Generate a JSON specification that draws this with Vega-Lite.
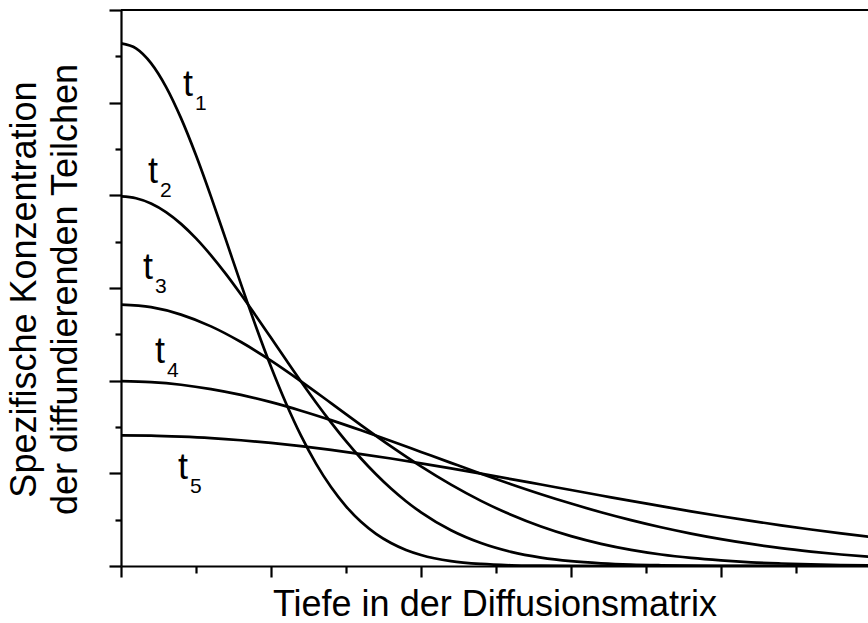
{
  "$schema": "https://vega.github.io/schema/vega-lite/v6.json",
  "width": 747,
  "height": 556,
  "autosize": {"type": "none"},
  "padding": {"left": 121, "top": 10, "right": 0, "bottom": 57},
  "background": "white",
  "config": {
    "view": {"stroke": null},
    "font": "Liberation Sans",
    "axis": {
      "domainColor": "black",
      "domainWidth": 2.2,
      "tickColor": "black",
      "tickWidth": 2.2,
      "labels": false,
      "grid": false,
      "titleFont": "Liberation Sans",
      "titleFontWeight": "normal",
      "titleFontSize": 36,
      "titleColor": "black"
    }
  },
  "datasets": {
    "curves": [
      {"curve": "t1", "x": 0, "y": 5.64}, {"curve": "t1", "x": 0.1, "y": 5.586}, {"curve": "t1", "x": 0.2, "y": 5.427}, {"curve": "t1", "x": 0.3, "y": 5.171}, {"curve": "t1", "x": 0.4, "y": 4.833}, {"curve": "t1", "x": 0.5, "y": 4.432}, {"curve": "t1", "x": 0.6, "y": 3.986}, {"curve": "t1", "x": 0.7, "y": 3.516}, {"curve": "t1", "x": 0.8, "y": 3.042}, {"curve": "t1", "x": 0.9, "y": 2.582}, {"curve": "t1", "x": 1.0, "y": 2.15}, {"curve": "t1", "x": 1.1, "y": 1.756}, {"curve": "t1", "x": 1.2, "y": 1.406}, {"curve": "t1", "x": 1.3, "y": 1.105}, {"curve": "t1", "x": 1.4, "y": 0.852}, {"curve": "t1", "x": 1.5, "y": 0.644}, {"curve": "t1", "x": 1.6, "y": 0.477}, {"curve": "t1", "x": 1.7, "y": 0.347}, {"curve": "t1", "x": 1.8, "y": 0.248}, {"curve": "t1", "x": 1.9, "y": 0.173}, {"curve": "t1", "x": 2.0, "y": 0.119}, {"curve": "t1", "x": 2.2, "y": 0.053}, {"curve": "t1", "x": 2.4, "y": 0.022}, {"curve": "t1", "x": 2.6, "y": 0.008}, {"curve": "t1", "x": 2.8, "y": 0.003}, {"curve": "t1", "x": 3.0, "y": 0.001}, {"curve": "t1", "x": 3.5, "y": 0}, {"curve": "t1", "x": 4.0, "y": 0}, {"curve": "t1", "x": 5.0, "y": 0},
      {"curve": "t2", "x": 0, "y": 3.988}, {"curve": "t2", "x": 0.1, "y": 3.969}, {"curve": "t2", "x": 0.2, "y": 3.912}, {"curve": "t2", "x": 0.3, "y": 3.819}, {"curve": "t2", "x": 0.4, "y": 3.692}, {"curve": "t2", "x": 0.5, "y": 3.535}, {"curve": "t2", "x": 0.6, "y": 3.352}, {"curve": "t2", "x": 0.7, "y": 3.149}, {"curve": "t2", "x": 0.8, "y": 2.929}, {"curve": "t2", "x": 0.9, "y": 2.698}, {"curve": "t2", "x": 1.0, "y": 2.462}, {"curve": "t2", "x": 1.1, "y": 2.225}, {"curve": "t2", "x": 1.2, "y": 1.991}, {"curve": "t2", "x": 1.3, "y": 1.765}, {"curve": "t2", "x": 1.4, "y": 1.55}, {"curve": "t2", "x": 1.5, "y": 1.347}, {"curve": "t2", "x": 1.6, "y": 1.16}, {"curve": "t2", "x": 1.7, "y": 0.99}, {"curve": "t2", "x": 1.8, "y": 0.836}, {"curve": "t2", "x": 1.9, "y": 0.699}, {"curve": "t2", "x": 2.0, "y": 0.579}, {"curve": "t2", "x": 2.2, "y": 0.386}, {"curve": "t2", "x": 2.4, "y": 0.248}, {"curve": "t2", "x": 2.6, "y": 0.153}, {"curve": "t2", "x": 2.8, "y": 0.091}, {"curve": "t2", "x": 3.0, "y": 0.052}, {"curve": "t2", "x": 3.2, "y": 0.029}, {"curve": "t2", "x": 3.4, "y": 0.015}, {"curve": "t2", "x": 3.6, "y": 0.008}, {"curve": "t2", "x": 3.8, "y": 0.004}, {"curve": "t2", "x": 4.0, "y": 0.002}, {"curve": "t2", "x": 4.5, "y": 0}, {"curve": "t2", "x": 5.0, "y": 0},
      {"curve": "t3", "x": 0, "y": 2.82}, {"curve": "t3", "x": 0.2, "y": 2.793}, {"curve": "t3", "x": 0.4, "y": 2.713}, {"curve": "t3", "x": 0.6, "y": 2.586}, {"curve": "t3", "x": 0.8, "y": 2.417}, {"curve": "t3", "x": 1.0, "y": 2.216}, {"curve": "t3", "x": 1.2, "y": 1.993}, {"curve": "t3", "x": 1.4, "y": 1.758}, {"curve": "t3", "x": 1.6, "y": 1.521}, {"curve": "t3", "x": 1.8, "y": 1.291}, {"curve": "t3", "x": 2.0, "y": 1.075}, {"curve": "t3", "x": 2.2, "y": 0.878}, {"curve": "t3", "x": 2.4, "y": 0.703}, {"curve": "t3", "x": 2.6, "y": 0.553}, {"curve": "t3", "x": 2.8, "y": 0.426}, {"curve": "t3", "x": 3.0, "y": 0.322}, {"curve": "t3", "x": 3.2, "y": 0.239}, {"curve": "t3", "x": 3.4, "y": 0.174}, {"curve": "t3", "x": 3.6, "y": 0.124}, {"curve": "t3", "x": 3.8, "y": 0.087}, {"curve": "t3", "x": 4.0, "y": 0.06}, {"curve": "t3", "x": 4.2, "y": 0.04}, {"curve": "t3", "x": 4.4, "y": 0.027}, {"curve": "t3", "x": 4.6, "y": 0.017}, {"curve": "t3", "x": 4.8, "y": 0.011}, {"curve": "t3", "x": 5.0, "y": 0.007},
      {"curve": "t4", "x": 0, "y": 1.994}, {"curve": "t4", "x": 0.2, "y": 1.984}, {"curve": "t4", "x": 0.4, "y": 1.956}, {"curve": "t4", "x": 0.6, "y": 1.909}, {"curve": "t4", "x": 0.8, "y": 1.846}, {"curve": "t4", "x": 1.0, "y": 1.768}, {"curve": "t4", "x": 1.2, "y": 1.676}, {"curve": "t4", "x": 1.4, "y": 1.574}, {"curve": "t4", "x": 1.6, "y": 1.464}, {"curve": "t4", "x": 1.8, "y": 1.349}, {"curve": "t4", "x": 2.0, "y": 1.231}, {"curve": "t4", "x": 2.2, "y": 1.113}, {"curve": "t4", "x": 2.4, "y": 0.996}, {"curve": "t4", "x": 2.6, "y": 0.883}, {"curve": "t4", "x": 2.8, "y": 0.775}, {"curve": "t4", "x": 3.0, "y": 0.674}, {"curve": "t4", "x": 3.2, "y": 0.58}, {"curve": "t4", "x": 3.4, "y": 0.495}, {"curve": "t4", "x": 3.6, "y": 0.418}, {"curve": "t4", "x": 3.8, "y": 0.35}, {"curve": "t4", "x": 4.0, "y": 0.29}, {"curve": "t4", "x": 4.2, "y": 0.238}, {"curve": "t4", "x": 4.4, "y": 0.193}, {"curve": "t4", "x": 4.6, "y": 0.156}, {"curve": "t4", "x": 4.8, "y": 0.124}, {"curve": "t4", "x": 5.0, "y": 0.098},
      {"curve": "t5", "x": 0, "y": 1.41}, {"curve": "t5", "x": 0.2, "y": 1.407}, {"curve": "t5", "x": 0.4, "y": 1.396}, {"curve": "t5", "x": 0.6, "y": 1.38}, {"curve": "t5", "x": 0.8, "y": 1.357}, {"curve": "t5", "x": 1.0, "y": 1.328}, {"curve": "t5", "x": 1.2, "y": 1.293}, {"curve": "t5", "x": 1.4, "y": 1.253}, {"curve": "t5", "x": 1.6, "y": 1.208}, {"curve": "t5", "x": 1.8, "y": 1.16}, {"curve": "t5", "x": 2.0, "y": 1.108}, {"curve": "t5", "x": 2.2, "y": 1.053}, {"curve": "t5", "x": 2.4, "y": 0.996}, {"curve": "t5", "x": 2.6, "y": 0.938}, {"curve": "t5", "x": 2.8, "y": 0.879}, {"curve": "t5", "x": 3.0, "y": 0.82}, {"curve": "t5", "x": 3.2, "y": 0.761}, {"curve": "t5", "x": 3.4, "y": 0.702}, {"curve": "t5", "x": 3.6, "y": 0.646}, {"curve": "t5", "x": 3.8, "y": 0.59}, {"curve": "t5", "x": 4.0, "y": 0.537}, {"curve": "t5", "x": 4.2, "y": 0.487}, {"curve": "t5", "x": 4.4, "y": 0.439}, {"curve": "t5", "x": 4.6, "y": 0.394}, {"curve": "t5", "x": 4.8, "y": 0.352}, {"curve": "t5", "x": 5.0, "y": 0.312}
    ],
    "labels": [
      {"curve": "t1", "sub": "1", "x": 0.413, "y": 5.072},
      {"curve": "t2", "sub": "2", "x": 0.18, "y": 4.133},
      {"curve": "t3", "sub": "3", "x": 0.147, "y": 3.097},
      {"curve": "t4", "sub": "4", "x": 0.227, "y": 2.191},
      {"curve": "t5", "sub": "5", "x": 0.38, "y": 0.939}
    ]
  },
  "layer": [
    {
      "data": {"name": "curves"},
      "mark": {"type": "line", "clip": true, "interpolate": "monotone", "color": "black", "strokeWidth": 2.7},
      "encoding": {
        "x": {
          "field": "x", "type": "quantitative",
          "scale": {"domain": [0, 4.98], "nice": false, "zero": false},
          "axis": {
            "title": "Tiefe in der Diffusionsmatrix",
            "values": [0, 0.5, 1, 1.5, 2, 2.5, 3, 3.5, 4, 4.5],
            "tickSize": {"condition": {"test": "datum.value % 1 === 0", "value": 11}, "value": 7},
            "titleY": 49,
            "titleBaseline": "alphabetic"
          }
        },
        "y": {
          "field": "y", "type": "quantitative",
          "scale": {"domain": [0, 6], "nice": false},
          "axis": {
            "title": ["Spezifische Konzentration", "der diffundierenden Teilchen"],
            "values": [0, 0.5, 1, 1.5, 2, 2.5, 3, 3.5, 4, 4.5, 5, 5.5, 6],
            "tickSize": {"condition": {"test": "datum.value % 1 === 0", "value": 12}, "value": 6},
            "titleAngle": -90,
            "titleX": -86,
            "titleY": 279,
            "titleAlign": "center",
            "titleBaseline": "alphabetic",
            "titleLineHeight": 41
          }
        },
        "detail": {"field": "curve"}
      }
    },
    {
      "data": {"values": [{}]},
      "mark": {"type": "rule", "color": "black", "strokeWidth": 2.2},
      "encoding": {"y": {"datum": 6}}
    },
    {
      "data": {"name": "labels"},
      "mark": {"type": "text", "align": "left", "baseline": "alphabetic", "fontSize": 36, "font": "Liberation Sans", "color": "black"},
      "encoding": {
        "x": {"field": "x", "type": "quantitative"},
        "y": {"field": "y", "type": "quantitative"},
        "text": {"value": "t"}
      }
    },
    {
      "data": {"name": "labels"},
      "mark": {"type": "text", "align": "left", "baseline": "alphabetic", "fontSize": 21, "font": "Liberation Sans", "color": "black", "dx": 12, "dy": 14},
      "encoding": {
        "x": {"field": "x", "type": "quantitative"},
        "y": {"field": "y", "type": "quantitative"},
        "text": {"field": "sub"}
      }
    }
  ]
}
